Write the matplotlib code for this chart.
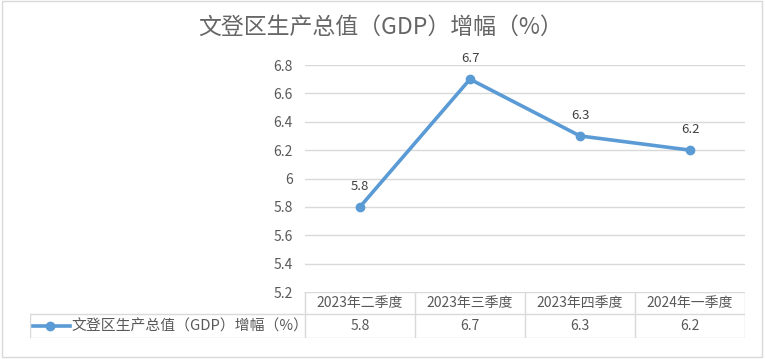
import matplotlib
matplotlib.use("Agg")
import matplotlib.pyplot as plt
from matplotlib.patches import Rectangle
from matplotlib.lines import Line2D

plt.rcParams['font.family'] = ['Noto Sans CJK SC', 'DejaVu Sans']

title = "文登区生产总值（GDP）增幅（%）"
series_name = "文登区生产总值（GDP）增幅（%）"
quarters = ["2023年二季度", "2023年三季度", "2023年四季度", "2024年一季度"]
growth = [5.8, 6.7, 6.3, 6.2]
y_ticks = [5.2, 5.4, 5.6, 5.8, 6.0, 6.2, 6.4, 6.6, 6.8]
y_tick_labels = ["5.2", "5.4", "5.6", "5.8", "6", "6.2", "6.4", "6.6", "6.8"]

W, H = 765, 359
text_gray = "#595959"
grid_gray = "#d9d9d9"
line_blue = "#5b9bd5"


def px_box(x0, y0, x1, y1):
    # pixel box (top-left origin) -> figure fraction rect
    return [x0 / W, 1 - y1 / H, (x1 - x0) / W, (y1 - y0) / H]


fig = plt.figure(figsize=(W / 100, H / 100), dpi=100)
fig.patch.set_facecolor("white")
fig.patches.append(Rectangle((2 / W, 1 - 357 / H), 760 / W, 356 / H, transform=fig.transFigure,
                             fill=False, edgecolor=grid_gray, linewidth=1))

fig.text(381 / W, 1 - 27 / H, title, ha="center", va="center", fontsize=16.5,
         color="#666666")

# main plot
ax = fig.add_axes(px_box(305, 65, 745, 292))
xs = list(range(len(quarters)))
ax.set_xlim(-0.5, len(quarters) - 0.5)
ax.set_ylim(y_ticks[0], y_ticks[-1])
for t in y_ticks[1:]:
    ax.axhline(t, color=grid_gray, linewidth=1, zorder=0)
ax.plot(xs, growth, color=line_blue, linewidth=2.6, marker="o", markersize=6,
        solid_capstyle="round", zorder=3)
for x, v in zip(xs, growth):
    ax.annotate(f"{v:g}", (x, v), xytext=(0, 10), textcoords="offset points",
                ha="center", va="bottom", fontsize=9.5, color="#404040")
ax.set_yticks(y_ticks)
ax.set_yticklabels(y_tick_labels)
ax.tick_params(axis="y", length=0, pad=9, labelsize=10, labelcolor=text_gray)
ax.set_xticks([])
for s in ax.spines.values():
    s.set_visible(False)
ax.patch.set_visible(False)

# data table under the plot, same 110 px per category
tab = fig.add_axes(px_box(30, 292, 745, 338))
tab.set_xlim(-3.0, len(quarters) - 0.5)
tab.set_ylim(0, 46)
tab.axis("off")
lw = 1
tab.add_line(Line2D([-0.5, len(quarters) - 0.5], [46, 46], color=grid_gray, lw=lw))
tab.add_line(Line2D([-3.0, len(quarters) - 0.5], [24, 24], color=grid_gray, lw=lw))
tab.add_line(Line2D([-3.0, len(quarters) - 0.5], [0, 0], color=grid_gray, lw=lw))
tab.add_line(Line2D([-3.0, -3.0], [0, 24], color=grid_gray, lw=lw))
for i in range(len(quarters) + 1):
    tab.add_line(Line2D([i - 0.5, i - 0.5], [0, 46], color=grid_gray, lw=lw))
for x, q, v in zip(xs, quarters, growth):
    tab.text(x, 35, q, ha="center", va="center", fontsize=10, color=text_gray)
    tab.text(x, 12, f"{v:g}", ha="center", va="center", fontsize=10, color=text_gray)
# legend key inside table
tab.add_line(Line2D([-2.97, -2.82, -2.64], [12, 12, 12], color=line_blue, lw=2.6,
                    marker="o", markevery=[1], markersize=6))
tab.text(-2.62, 12, series_name, ha="left", va="center", fontsize=10.7, color=text_gray)

fig.savefig("out.png", dpi=100, facecolor="white")
